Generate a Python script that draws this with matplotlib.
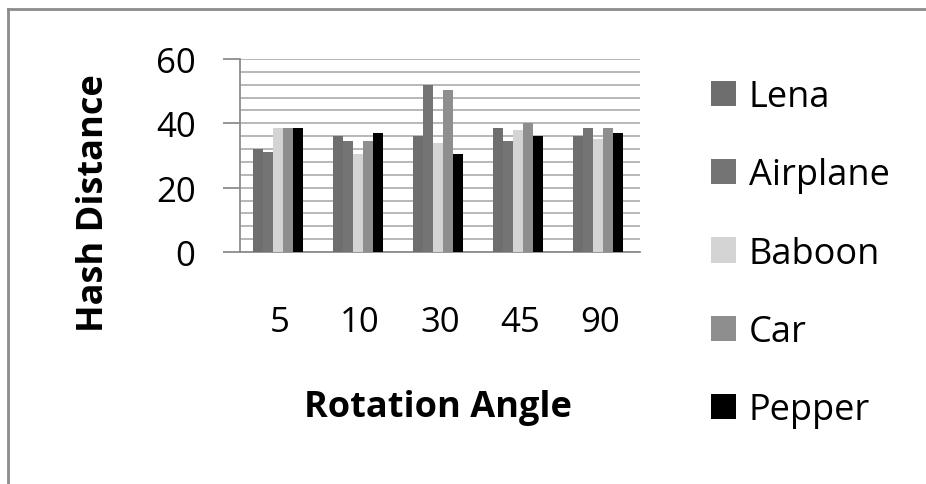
import matplotlib
matplotlib.use("Agg")
import matplotlib.pyplot as plt
from matplotlib.patches import Patch
from matplotlib.lines import Line2D
import numpy as np

plt.rcParams['font.family'] = ['Open Sans', 'DejaVu Sans']

angles = ["5", "10", "30", "45", "90"]
series_names = ["Lena", "Airplane", "Baboon", "Car", "Pepper"]
lena = [32, 36, 36, 38.5, 36]
airplane = [31, 34.5, 52, 34.5, 38.5]
baboon = [38.5, 30.5, 34, 38, 35]
car = [38.5, 34.5, 50.5, 40, 38.5]
pepper = [38.5, 37, 30.5, 36, 37]
colors = ["#6e6e6e", "#747474", "#d4d4d4", "#8e8e8e", "#000000"]

all_series = [lena, airplane, baboon, car, pepper]

fig = plt.figure(figsize=(9.26, 4.85), dpi=100)
ax = fig.add_axes([240 / 926, 1 - 253 / 485, 400 / 926, 193 / 485])

x = np.arange(len(angles))
w = 0.125
for i, (vals, c) in enumerate(zip(all_series, colors)):
    ax.bar(x + (i - 2) * w - 0.03, vals, width=w, color=c, zorder=3)

ax.set_xlim(-0.5, len(angles) - 0.5)
ax.set_ylim(0, 60)
ax.set_yticks([0, 20, 40, 60])
ax.set_yticks(np.arange(0, 61, 4), minor=True)
ax.grid(True, axis="y", which="both", color="#b2b2b2", linewidth=1.3, zorder=0)
ax.set_axisbelow(True)

for s in ["top", "right"]:
    ax.spines[s].set_visible(False)
ax.spines["left"].set_color("#8c8c8c")
ax.spines["bottom"].set_color("#8c8c8c")
ax.spines["left"].set_linewidth(1.3)
ax.spines["bottom"].set_linewidth(1.3)

ax.set_xticks(x)
ax.set_xticklabels(angles, fontsize=25)
ax.tick_params(axis="x", length=0, pad=38)
ax.tick_params(axis="y", which="major", length=12, width=1.3, color="#8c8c8c",
               labelsize=25, pad=20)
ax.tick_params(axis="y", which="minor", length=0)

ax.set_ylabel("Hash Distance", fontsize=26, fontweight="bold")
ax.yaxis.set_label_coords(-0.32, 0.26)
ax.set_xlabel("Rotation Angle", fontsize=26, fontweight="bold")
ax.xaxis.set_label_coords(0.495, -0.71)

handles = [Patch(facecolor=c, edgecolor="none") for c in colors]
fig.legend(handles, series_names, loc="upper left",
           bbox_to_anchor=(693 / 926, 1 - 62 / 485), frameon=False,
           fontsize=26, handlelength=0.7, handleheight=0.7,
           handletextpad=0.35, labelspacing=1.17, borderpad=0)

# outer chart frame (top and left edges)
fig.add_artist(Line2D([8 / 926, 1], [1 - 10 / 485] * 2, color="#8c8c8c", lw=2))
fig.add_artist(Line2D([8 / 926] * 2, [0, 1 - 10 / 485], color="#8c8c8c", lw=2))

fig.savefig("out.png", dpi=100)
